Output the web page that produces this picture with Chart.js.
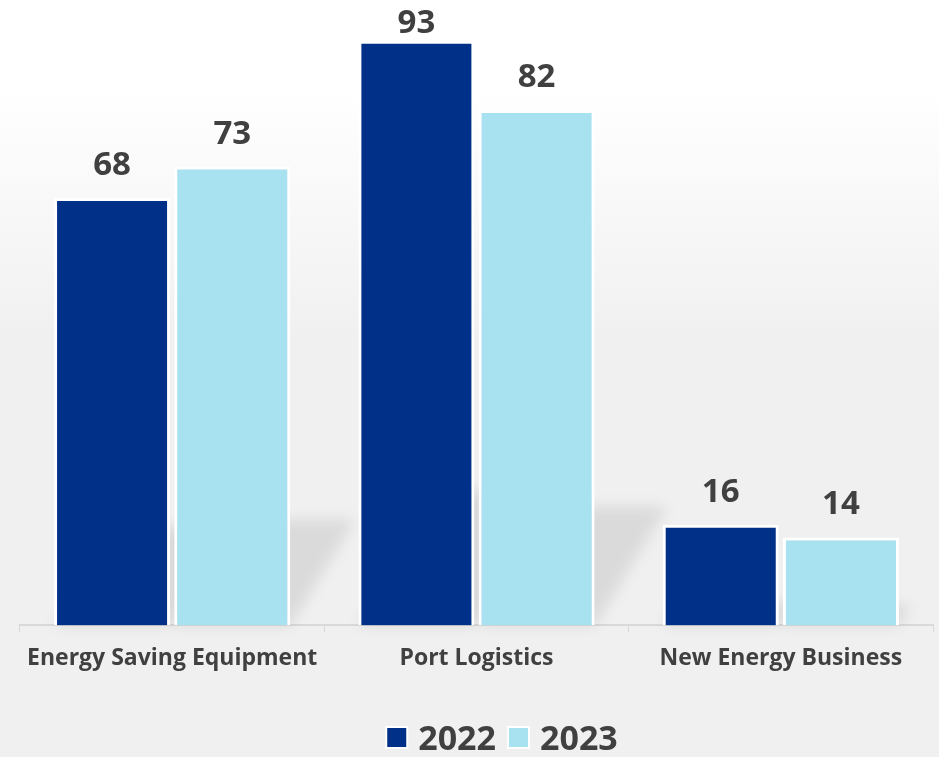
<!DOCTYPE html>
<html>
<head>
<meta charset="utf-8">
<script src="https://cdn.jsdelivr.net/npm/chart.js@4/dist/chart.umd.min.js"></script>
<style>
  html, body { margin: 0; padding: 0; background: #f0f0f0; }
  #wrap { width: 939px; height: 757px; position: relative; }
</style>
</head>
<body>
<div id="wrap"><canvas id="segmentChart"></canvas></div>
<script>
const categories = ["Energy Saving Equipment", "Port Logistics", "New Energy Business"];
const values2022 = [68, 93, 16];
const values2023 = [73, 82, 14];
const seriesNames = ["2022", "2023"];

const textColor = "#404040";
const fontFamily = "'Open Sans', 'Noto Sans', sans-serif";

// soft white-to-grey backdrop
const backdrop = {
  id: "backdrop",
  beforeDraw(chart) {
    const { ctx, width, height } = chart;
    const g = ctx.createLinearGradient(0, 0, 0, height);
    g.addColorStop(0, "#ffffff");
    g.addColorStop(0.12, "#ffffff");
    g.addColorStop(0.45, "#f0f0f0");
    g.addColorStop(1, "#f0f0f0");
    ctx.save();
    ctx.fillStyle = g;
    ctx.fillRect(0, 0, width, height);
    ctx.restore();
  },
};

// slanted floor shadows cast by each bar
const barShadows = {
  id: "barShadows",
  beforeDatasetsDraw(chart) {
    const { ctx } = chart;
    ctx.save();
    ctx.filter = "blur(7px)";
    ctx.fillStyle = "rgba(0, 0, 0, 0.09)";
    chart.data.datasets.forEach((ds, i) => {
      chart.getDatasetMeta(i).data.forEach((bar) => {
        const h = bar.base - bar.y;
        const half = bar.width / 2;
        const rise = h * 0.23;
        const dx = h * 0.14;
        ctx.beginPath();
        ctx.moveTo(bar.x - half, bar.base);
        ctx.lineTo(bar.x + half, bar.base);
        ctx.lineTo(bar.x + half + dx, bar.base - rise);
        ctx.lineTo(bar.x - half + dx, bar.base - rise);
        ctx.closePath();
        ctx.fill();
      });
    });
    ctx.restore();
  },
};

// value labels above the bars, kept inside the canvas
const valueLabels = {
  id: "valueLabels",
  afterDatasetsDraw(chart) {
    const { ctx } = chart;
    ctx.save();
    ctx.font = "bold 33px " + fontFamily;
    ctx.fillStyle = textColor;
    ctx.textAlign = "center";
    ctx.textBaseline = "alphabetic";
    chart.data.datasets.forEach((ds, i) => {
      chart.getDatasetMeta(i).data.forEach((bar, j) => {
        const y = Math.max(bar.y - 23, 33);
        ctx.fillText(ds.data[j], bar.x, y);
      });
    });
    ctx.restore();
  },
};

// compact legend under the axis: square swatch, tight gap, bold year
const yearLegend = {
  id: "yearLegend",
  afterDraw(chart) {
    const { ctx, width, height } = chart;
    const box = 23;
    const gapText = 10;
    const gapItem = 11;
    ctx.save();
    ctx.font = "bold 34px " + fontFamily;
    const items = chart.data.datasets.map((ds) => ({
      ds,
      w: ctx.measureText(ds.label).width,
    }));
    const total = items.reduce((s, it) => s + box + gapText + it.w, 0) + gapItem * (items.length - 1);
    let x = width / 2 + 32 - total / 2;
    const baseline = height - 7;
    items.forEach((it) => {
      const top = baseline - box - 1;
      ctx.fillStyle = "#ffffff";
      ctx.fillRect(x, top, box, box);
      ctx.fillStyle = it.ds.backgroundColor;
      ctx.fillRect(x + 2, top + 2, box - 4, box - 4);
      x += box + gapText;
      ctx.fillStyle = textColor;
      ctx.textAlign = "left";
      ctx.textBaseline = "alphabetic";
      ctx.fillText(it.ds.label, x, baseline);
      x += it.w + gapItem;
    });
    ctx.restore();
  },
};

new Chart(document.getElementById("segmentChart"), {
  type: "bar",
  data: {
    labels: categories,
    datasets: [
      {
        label: seriesNames[0],
        data: values2022,
        backgroundColor: "#003087",
        borderColor: "#ffffff",
        borderWidth: 3,
      },
      {
        label: seriesNames[1],
        data: values2023,
        backgroundColor: "#a8e2f0",
        borderColor: "#ffffff",
        borderWidth: 3,
      },
    ],
  },
  options: {
    responsive: true,
    maintainAspectRatio: false,
    animation: false,
    categoryPercentage: 0.79,
    barPercentage: 0.965,
    layout: { padding: { left: 20, right: 6, top: 0, bottom: 47 } },
    plugins: {
      legend: { display: false },
      tooltip: { enabled: false },
    },
    scales: {
      x: {
        afterFit(scale) {
          scale.height += 26;
        },
        grid: {
          display: true,
          drawOnChartArea: false,
          drawTicks: true,
          tickLength: 7,
          offset: true,
          color: "#d9d9d9",
        },
        border: { display: true, color: "#d9d9d9", width: 2 },
        ticks: {
          color: textColor,
          padding: 12,
          font: { family: fontFamily, size: 23, weight: "bold" },
        },
      },
      y: {
        display: false,
        min: 0,
        max: 99.5,
      },
    },
  },
  plugins: [backdrop, barShadows, valueLabels, yearLegend],
});
</script>
</body>
</html>
